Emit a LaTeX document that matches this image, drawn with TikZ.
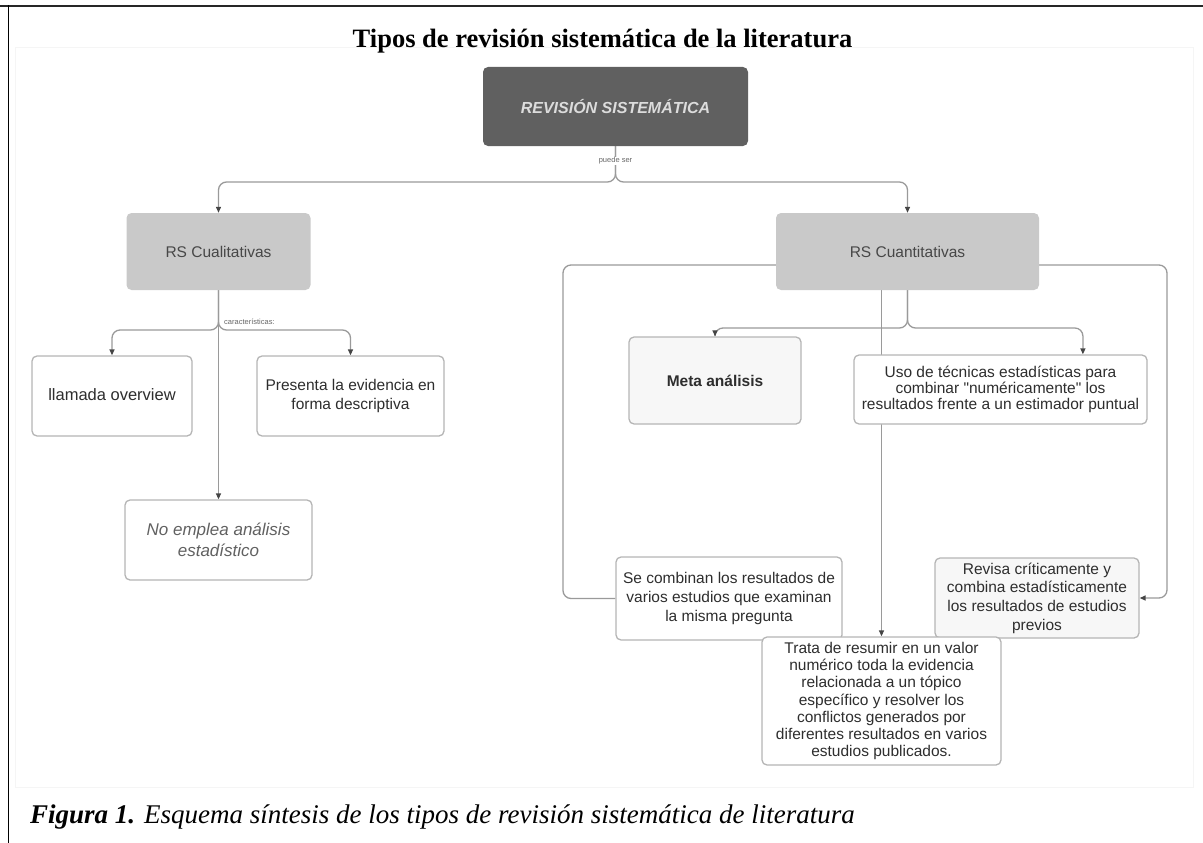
\documentclass[tikz,border=0pt]{standalone}
\usepackage{fontspec}
\setmainfont{Liberation Serif}
\newfontfamily\lsans{Liberation Sans}
\usetikzlibrary{arrows.meta,calc,backgrounds}
\definecolor{mainfill}{HTML}{606060}
\definecolor{mainfont}{HTML}{DCDCDC}
\definecolor{rsfill}{HTML}{C9C9C9}
\definecolor{boxline}{HTML}{B5B5B5}
\definecolor{txt}{HTML}{2E2E2E}
\definecolor{conncol}{HTML}{9A9A9A}
\definecolor{tipcol}{HTML}{454545}
\definecolor{offwhite}{HTML}{F7F7F7}
\tikzset{
  basebox/.style={rounded corners=5pt, align=center, inner sep=0pt, text=txt,
    font=\lsans\fontsize{15.5}{18.6}\selectfont},
  whitebox/.style={basebox, draw=boxline, line width=1.3pt, fill=white},
  rsbox/.style={basebox, fill=rsfill, text=black!72},
  conn/.style={draw=conncol, line width=1.3pt, rounded corners=8pt},
  arr/.style={conn, -{Triangle[length=6pt,width=5pt,color=tipcol]}},
  tiny/.style={font=\lsans\fontsize{7.5}{9}\selectfont, text=black!60, inner sep=1pt}
}
\begin{document}
\begin{tikzpicture}[x=1pt,y=-1pt]
\useasboundingbox (0,0) rectangle (1203,843);
% page frame
\draw[black!4, line width=1pt] (15,48) rectangle (1193,787);
\draw[black!85, line width=2.5pt] (0,6) -- (1203,6);
\draw[black, line width=1.5pt] (8.5,5) -- (8.5,843);
% title and caption
\node[anchor=base, font=\bfseries\fontsize{26.5}{30}\selectfont] (title) at (602.5,48)
  {Tipos de revisión sistemática de la literatura};
\node[anchor=base west, inner sep=0pt, font=\fontsize{27}{32}\selectfont] (caption) at (30,823)
  {\textbf{\textit{Figura 1.}} \textit{Esquema síntesis de los tipos de revisión sistemática de literatura}};
% nodes
\node[basebox, fill=mainfill, text=mainfont, minimum width=265pt, minimum height=79pt,
  font=\lsans\bfseries\itshape\fontsize{16}{19}\selectfont] (main) at (615.5,106.5) {REVISIÓN SISTEMÁTICA};
\node[rsbox, minimum width=184pt, minimum height=77pt] (cual) at (218.5,251.5) {RS Cualitativas};
\node[rsbox, minimum width=263pt, minimum height=77pt] (cuan) at (907.5,251.5) {RS Cuantitativas};
\node[whitebox, minimum width=160pt, minimum height=80pt,
  font=\lsans\fontsize{16.5}{19}\selectfont] (llam) at (112,396) {\raisebox{3pt}{llamada overview}};
\node[whitebox, minimum width=187pt, minimum height=80pt] (pres) at (350.5,396)
  {Presenta la evidencia en\\forma descriptiva};
\node[whitebox, minimum width=187pt, minimum height=80pt, text=black!62,
  font=\lsans\itshape\fontsize{17}{21}\selectfont] (noem) at (218.5,540)
  {No emplea análisis\\estadístico};
\node[whitebox, fill=offwhite, minimum width=172pt, minimum height=87pt,
  font=\lsans\bfseries\fontsize{15.5}{18.6}\selectfont] (meta) at (715,380.5) {Meta análisis};
\node[whitebox, minimum width=293pt, minimum height=69pt,
  font=\lsans\fontsize{15.5}{16}\selectfont] (uso) at (1000.5,389.5)
  {Uso de técnicas estadísticas para\\combinar "numéricamente" los\\resultados frente a un estimador puntual};
\node[whitebox, minimum width=226pt, minimum height=83pt,
  font=\lsans\fontsize{15.5}{19}\selectfont] (seco) at (729,598.5)
  {Se combinan los resultados de\\varios estudios que examinan\\la misma pregunta};
\node[whitebox, fill=offwhite, minimum width=204pt, minimum height=80pt,
  font=\lsans\fontsize{15.5}{18.7}\selectfont] (revi) at (1037,598)
  {Revisa críticamente y\\combina estadísticamente\\los resultados de estudios\\previos};
\node[whitebox, minimum width=239pt, minimum height=128pt,
  font=\lsans\fontsize{15.5}{17.2}\selectfont] (trat) at (881.5,701)
  {Trata de resumir en un valor\\numérico toda la evidencia\\relacionada a un tópico\\específico y resolver los\\conflictos generados por\\diferentes resultados en varios\\estudios publicados.};
% labels
\node[tiny, fill=white] (puede) at (615.5,161) {puede ser};
\node[tiny, anchor=west] (carac) at (223,322) {características:};
% connectors
\begin{scope}[on background layer]
\draw[arr] (main.south) -- (615.5,182) -| (cual.north);
\draw[arr] (main.south) -- (615.5,182) -| (cuan.north);
\draw[arr] (cual.south) -- (218.5,330) -| (llam.north);
\draw[arr] (cual.south) -- (218.5,330) -| (pres.north);
\draw[arr] (cual.south) -- (noem.north);
\draw[arr] (cuan.south) -- (907.5,328) -| (meta.north);
\draw[arr] (cuan.south) -- (907.5,328) -| ($(uso.north west)!0.78!(uso.north east)$);
\draw[arr] (cuan.south -| trat.north) -- (trat.north);
\draw[conn] ($(cuan.north west)!0.675!(cuan.south west)$) -- (563,265) |- (seco.west);
\draw[arr] ($(cuan.north east)!0.675!(cuan.south east)$) -- (1167,265) |- (revi.east);
\end{scope}
\end{tikzpicture}
\end{document}
